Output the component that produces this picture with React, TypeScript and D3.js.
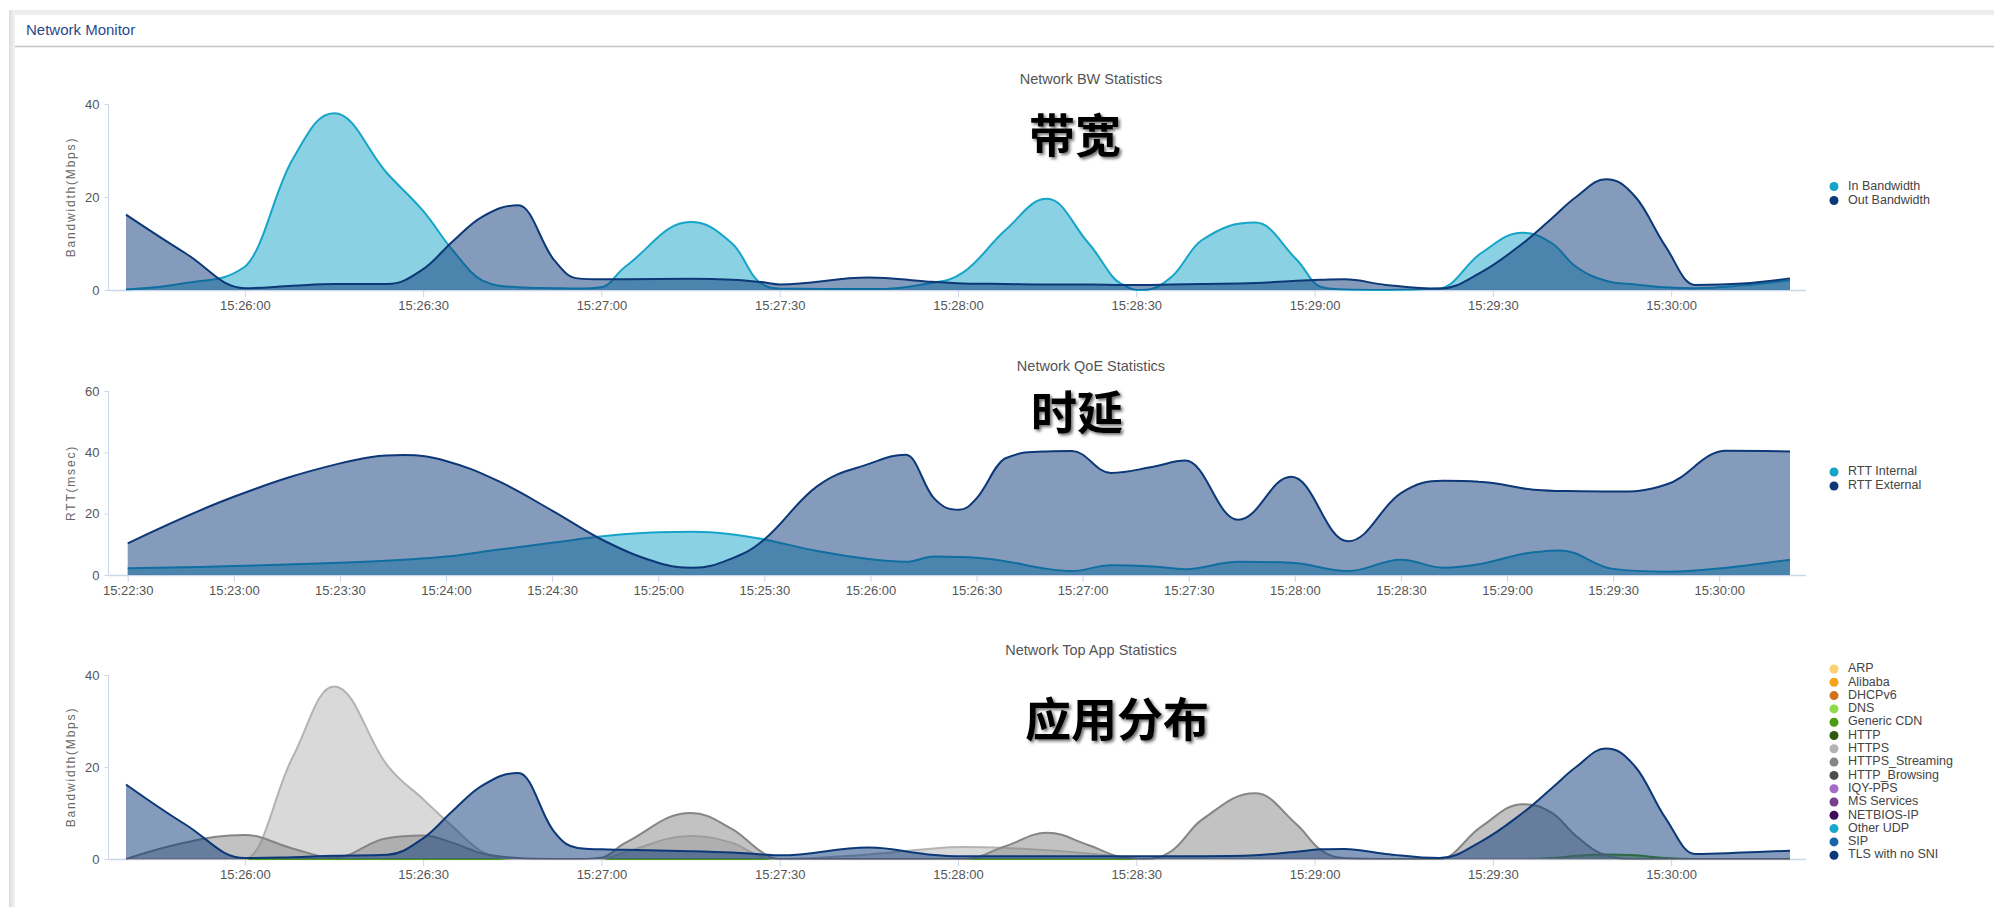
import React, { useEffect, useRef } from 'react';
import * as d3 from 'd3';

// ---- Network BW Statistics ----
const bwTimes = [
  '15:25:40', '15:25:50', '15:26:00', '15:26:08', '15:26:15', '15:26:24', '15:26:30', '15:26:35',
  '15:26:40', '15:26:46', '15:26:52', '15:26:56', '15:27:00', '15:27:04', '15:27:15', '15:27:22',
  '15:27:27', '15:27:30', '15:27:45', '15:27:55', '15:28:01', '15:28:08', '15:28:15', '15:28:22',
  '15:28:28', '15:28:31', '15:28:36', '15:28:41', '15:28:50', '15:28:57', '15:29:01', '15:29:05',
  '15:29:12', '15:29:21', '15:29:28', '15:29:35', '15:29:40', '15:29:44', '15:29:49', '15:29:54',
  '15:29:59', '15:30:04', '15:30:12', '15:30:20',
];
const inBandwidth = [
  0.1, 1.5, 5.0, 28, 38, 25, 17, 8.5, 2, 0.6, 0.4, 0.3, 0.6, 5, 14.6, 10,
  1.4, 0.3, 0.2, 1.4, 3.9, 12.9, 19.6, 10, 1, 0, 2.9, 10.7, 14.5, 6.5, 0.7, 0.1,
  0, 0.3, 7.9, 12.3, 10, 5, 2, 1.2, 0.6, 0.4, 1, 2.1,
];
const outBandwidth = [
  16.2, 7.9, 0.4, 0.9, 1.3, 1.3, 4.5, 10.5, 15.8, 18.2, 6.5, 2.5, 2.3, 2.3, 2.4, 2.2,
  1.7, 1.2, 2.7, 1.8, 1.4, 1.3, 1.2, 1.2, 1.1, 1.1, 1.2, 1.3, 1.5, 2, 2.2, 2.3,
  1.1, 0.3, 3.8, 10, 15.5, 20, 23.8, 20, 9.5, 1.1, 1.4, 2.5,
];
const bwTicks = ['15:26:00', '15:26:30', '15:27:00', '15:27:30', '15:28:00', '15:28:30', '15:29:00', '15:29:30', '15:30:00'];

// ---- Network QoE Statistics ----
const qoeTimes = [
  '15:22:30', '15:23:00', '15:23:30', '15:23:48', '15:24:00', '15:24:15', '15:24:30', '15:24:45',
  '15:25:00', '15:25:10', '15:25:20', '15:25:30', '15:25:45', '15:26:00', '15:26:10', '15:26:18',
  '15:26:25', '15:26:30', '15:26:38', '15:26:50', '15:26:57', '15:27:08', '15:27:20', '15:27:29',
  '15:27:44', '15:27:59', '15:28:15', '15:28:30', '15:28:42', '15:28:52', '15:29:10', '15:29:15',
  '15:29:30', '15:29:45', '15:30:02', '15:30:20',
];
const rttInternal = [
  2.2, 2.9, 4.0, 5.0, 6.0, 8.3, 10.5, 12.7, 13.9, 14.1, 13.4, 11.6, 7.8, 5.1, 4.3, 6,
  5.9, 5.6, 4.5, 2, 1.3, 3.2, 2.8, 1.9, 4.3, 4, 1.3, 5, 2.4, 3.5, 7.7, 8,
  2, 1.1, 2.4, 5,
];
const rttExternal = [
  10.3, 25.5, 36.4, 39.1, 37.2, 30.5, 21, 11, 4, 2.4, 5, 11.6, 29, 36.4, 39.2, 25,
  21.3, 25, 38, 40.3, 40.4, 33.3, 35.3, 37.3, 18, 32, 11, 26.7, 30.7, 30.4, 27.6, 27.4,
  27.2, 29.5, 40.5, 40.3,
];
const qoeTicks = [
  '15:22:30', '15:23:00', '15:23:30', '15:24:00', '15:24:30', '15:25:00', '15:25:30', '15:26:00',
  '15:26:30', '15:27:00', '15:27:30', '15:28:00', '15:28:30', '15:29:00', '15:29:30', '15:30:00',
];

// ---- Network Top App Statistics ----
const appTimes = bwTimes;
const appNames = [
  'ARP', 'Alibaba', 'DHCPv6', 'DNS', 'Generic CDN', 'HTTP', 'HTTPS', 'HTTPS_Streaming',
  'HTTP_Browsing', 'IQY-PPS', 'MS Services', 'NETBIOS-IP', 'Other UDP', 'SIP', 'TLS with no SNI',
];
const appColors = [
  '#fcd073', '#f7a21b', '#d2711c', '#8fd94b', '#4e9a10', '#2f5a0e', '#b3b3b3', '#858585',
  '#4d4d4d', '#a56bc5', '#7a3f8c', '#3e0c58', '#17a9cc', '#1a63a9', '#0c3877',
];
const genericCdnTraffic = [
  0, 0, 0, 0, 0, 0, 0, 0, 0, 0, 0, 0, 0, 0, 0, 0,
  0, 0, 0, 0, 0, 0, 0, 0, 0, 0, 0, 0, 0, 0, 0, 0,
  0, 0, 0, 0, 0.2, 0.7, 1.0, 0.8, 0.2, 0, 0, 0,
];
const httpsTraffic = [
  0, 0, 0, 22, 37.5, 20.3, 13, 7, 1.5, 0, 0, 0, 0, 1.5, 5, 3.5,
  0.5, 0, 1, 2.2, 2.6, 2.4, 1.9, 1.2, 0.4, 0, 0, 0, 0, 0, 0, 0,
  0, 0, 0, 0, 0, 0, 0, 0, 0, 0, 0, 0,
];
const httpsStreamingTraffic = [
  0, 3.6, 5.2, 2.3, 0.3, 4.5, 5.1, 3.5, 1.2, 0.2, 0, 0, 0.3, 3.5, 10, 6.5,
  1.5, 0, 0, 0, 0, 2.8, 5.7, 3, 0.3, 0, 1.8, 8.5, 14.3, 7.5, 2, 0.2,
  0, 0, 7, 11.9, 10, 5, 0.8, 0, 0, 0, 0, 0,
];
const tlsNoSniTraffic = [
  16.2, 7.5, 0.2, 0.4, 0.7, 0.9, 4.5, 10.5, 16, 18.7, 6, 2.4, 2.1, 2.0, 1.7, 1.4,
  1.0, 0.8, 2.5, 1.0, 0.6, 0.6, 0.6, 0.6, 0.6, 0.6, 0.6, 0.6, 0.8, 1.6, 2.1, 2.2,
  1.1, 0.2, 3.8, 10, 15.5, 20, 24, 20, 9, 1.1, 1.4, 1.8,
];
const appValues: Record<string, number[]> = {
  'Generic CDN': genericCdnTraffic,
  HTTPS: httpsTraffic,
  HTTPS_Streaming: httpsStreamingTraffic,
  'TLS with no SNI': tlsNoSniTraffic,
};

const FONT = '"Liberation Sans", Arial, Helvetica, sans-serif';
const parseTime = d3.timeParse('%H:%M:%S');
const AXIS_COLOR = '#ccd6eb';

// spline like the one the monitoring page uses (control points at 40%, clamped at extremes)
class SplineCurve {
  _context: any;
  _line: number;
  _x: number[];
  _y: number[];
  constructor(context) { this._context = context; }
  areaStart() { this._line = 0; }
  areaEnd() { this._line = NaN; }
  lineStart() { this._x = []; this._y = []; }
  point(x, y) { this._x.push(+x); this._y.push(+y); }
  lineEnd() {
    const xs = this._x, ys = this._y, n = xs.length;
    if (n) {
      if (this._line) this._context.lineTo(xs[0], ys[0]);
      else this._context.moveTo(xs[0], ys[0]);
      const s = 1.5, den = s + 1;
      const rcx = [], rcy = [], lcx = [], lcy = [];
      for (let i = 0; i < n; i++) {
        if (i === 0 || i === n - 1) {
          lcx[i] = rcx[i] = xs[i];
          lcy[i] = rcy[i] = ys[i];
          continue;
        }
        const px = xs[i], py = ys[i];
        const lx = xs[i - 1], ly = ys[i - 1], nx = xs[i + 1], ny = ys[i + 1];
        const lX = (s * px + lx) / den;
        let lY = (s * py + ly) / den;
        const rX = (s * px + nx) / den;
        let rY = (s * py + ny) / den;
        let corr = 0;
        if (rX !== lX) corr = ((rY - lY) * (rX - px)) / (rX - lX) + py - rY;
        lY += corr;
        rY += corr;
        if (lY > ly && lY > py) { lY = Math.max(ly, py); rY = 2 * py - lY; }
        else if (lY < ly && lY < py) { lY = Math.min(ly, py); rY = 2 * py - lY; }
        if (rY > ny && rY > py) { rY = Math.max(ny, py); lY = 2 * py - rY; }
        else if (rY < ny && rY < py) { rY = Math.min(ny, py); lY = 2 * py - rY; }
        lcx[i] = lX; lcy[i] = lY; rcx[i] = rX; rcy[i] = rY;
      }
      for (let i = 1; i < n; i++) {
        this._context.bezierCurveTo(rcx[i - 1], rcy[i - 1], lcx[i], lcy[i], xs[i], ys[i]);
      }
    }
    if (this._line || (this._line !== 0 && n === 1)) this._context.closePath();
    this._line = 1 - this._line;
    this._x = this._y = null;
  }
}
const curveSpline = (context) => new SplineCurve(context);

const drawChart = (root, cfg) => {
  const g = root.append('g');
  const times = cfg.times.map(parseTime);
  const x = d3.scaleTime().domain(d3.extent(times)).range([cfg.x0, cfg.x1]);
  const y = d3.scaleLinear().domain([0, cfg.yMax]).range([cfg.bottom, cfg.top]);

  // title
  g.append('text')
    .attr('x', 1091).attr('y', cfg.top - 24)
    .attr('text-anchor', 'middle').attr('dominant-baseline', 'middle')
    .attr('fill', '#555').style('font-family', FONT).style('font-size', '14.5px')
    .text(cfg.title);

  // x axis
  const xa = g.append('g')
    .attr('transform', `translate(0,${cfg.bottom})`)
    .call(d3.axisBottom(x)
      .tickValues(cfg.ticks.map(parseTime))
      .tickFormat(d3.timeFormat('%H:%M:%S'))
      .tickSize(7).tickPadding(4));
  xa.select('.domain').remove();
  xa.selectAll('line').attr('stroke', AXIS_COLOR);
  xa.selectAll('text').attr('fill', '#555').style('font-family', FONT).style('font-size', '13px');
  g.append('line')
    .attr('x1', cfg.axisX).attr('x2', 1806)
    .attr('y1', cfg.bottom + 0.5).attr('y2', cfg.bottom + 0.5)
    .attr('stroke', AXIS_COLOR).attr('stroke-width', 1.5);

  // y axis
  const ya = g.append('g')
    .attr('transform', `translate(${cfg.axisX},0)`)
    .call(d3.axisLeft(y).tickValues(cfg.yTicks).tickSize(4).tickPadding(5));
  ya.select('.domain').remove();
  ya.selectAll('line').attr('stroke', AXIS_COLOR);
  ya.selectAll('text').attr('fill', '#555').style('font-family', FONT).style('font-size', '13px');
  g.append('line')
    .attr('x1', cfg.axisX).attr('x2', cfg.axisX)
    .attr('y1', cfg.top).attr('y2', cfg.bottom)
    .attr('stroke', AXIS_COLOR).attr('stroke-width', 1);

  g.append('text')
    .attr('transform', `translate(72,${(cfg.top + cfg.bottom) / 2}) rotate(-90)`)
    .attr('text-anchor', 'middle').attr('dominant-baseline', 'middle')
    .attr('fill', '#666').style('font-family', FONT).style('font-size', '12px')
    .style('letter-spacing', '1.8px')
    .text(cfg.yTitle);

  // areas
  const area = d3.area<number>()
    .x((_, i) => x(times[i]))
    .y0(cfg.bottom)
    .y1(d => y(d))
    .curve(curveSpline);
  const line = d3.line<number>()
    .x((_, i) => x(times[i]))
    .y(d => y(d))
    .curve(curveSpline);

  cfg.series.forEach(s => {
    if (!s.values) return;
    const sg = g.append('g');
    sg.append('path')
      .attr('d', area(s.values))
      .attr('fill', s.color).attr('fill-opacity', s.opacity ?? 0.5);
    sg.append('path')
      .attr('d', line(s.values))
      .attr('fill', 'none').attr('stroke', s.stroke ?? s.color)
      .attr('stroke-width', 2).attr('stroke-linejoin', 'round');
  });

  // legend
  cfg.series.forEach((s, i) => {
    const ly = cfg.legendY + i * cfg.legendGap;
    g.append('circle').attr('cx', 1834).attr('cy', ly).attr('r', 4.5).attr('fill', s.color);
    g.append('text')
      .attr('x', 1848).attr('y', ly)
      .attr('dominant-baseline', 'middle')
      .attr('fill', '#444').style('font-family', FONT).style('font-size', '12.5px')
      .text(s.name);
  });

  // big overlay label
  g.append('text')
    .attr('x', cfg.noteX).attr('y', cfg.noteY)
    .attr('text-anchor', 'middle').attr('dominant-baseline', 'central')
    .attr('fill', '#000').attr('filter', 'url(#shadow)')
    .style('font-family', '"Noto Sans CJK SC", sans-serif')
    .style('font-weight', 700).style('font-size', '46px')
    .text(cfg.note);
};

const App = () => {
  const svgRef = useRef(null);

  useEffect(() => {
    const svg = d3.select(svgRef.current);
    svg.selectAll('*').remove();

    const defs = svg.append('defs');
    defs.append('filter').attr('id', 'shadow')
      .attr('x', '-20%').attr('y', '-20%').attr('width', '140%').attr('height', '140%')
      .append('feDropShadow')
      .attr('dx', 2).attr('dy', 2).attr('stdDeviation', 1.5)
      .attr('flood-color', '#333').attr('flood-opacity', 0.7);
    const grad = defs.append('linearGradient').attr('id', 'edge').attr('x1', 0).attr('x2', 1);
    grad.append('stop').attr('offset', 0).attr('stop-color', '#dcdcdc');
    grad.append('stop').attr('offset', 1).attr('stop-color', '#f3f3f3');

    // page frame
    svg.append('rect').attr('width', 1994).attr('height', 907).attr('fill', '#fff');
    svg.append('rect').attr('x', 9).attr('y', 10).attr('width', 1985).attr('height', 5).attr('fill', '#ededed');
    svg.append('rect').attr('x', 9).attr('y', 10).attr('width', 6).attr('height', 897).attr('fill', 'url(#edge)');
    svg.append('text')
      .attr('x', 26).attr('y', 31).attr('dominant-baseline', 'middle')
      .attr('fill', '#284a8c').style('font-family', FONT).style('font-size', '15px')
      .text('Network Monitor');
    svg.append('line')
      .attr('x1', 15).attr('x2', 1994).attr('y1', 46.5).attr('y2', 46.5)
      .attr('stroke', '#c4c4c4').attr('stroke-width', 1.5);

    drawChart(svg, {
      title: 'Network BW Statistics', yTitle: 'Bandwidth(Mbps)',
      times: bwTimes, ticks: bwTicks, yMax: 40, yTicks: [0, 20, 40],
      top: 104, bottom: 290, x0: 126, x1: 1790, axisX: 108.5,
      series: [
        { name: 'In Bandwidth', color: '#16a4c8', values: inBandwidth },
        { name: 'Out Bandwidth', color: '#0c3877', values: outBandwidth },
      ],
      legendY: 186.5, legendGap: 14,
      note: '带宽', noteX: 1075, noteY: 132,
    });

    drawChart(svg, {
      title: 'Network QoE Statistics', yTitle: 'RTT(msec)',
      times: qoeTimes, ticks: qoeTicks, yMax: 60, yTicks: [0, 20, 40, 60],
      top: 391, bottom: 575, x0: 127.7, x1: 1790, axisX: 108.5,
      series: [
        { name: 'RTT Internal', color: '#16a4c8', values: rttInternal },
        { name: 'RTT External', color: '#0c3877', values: rttExternal },
      ],
      legendY: 472, legendGap: 14,
      note: '时延', noteX: 1077, noteY: 409,
    });

    drawChart(svg, {
      title: 'Network Top App Statistics', yTitle: 'Bandwidth(Mbps)',
      times: appTimes, ticks: bwTicks, yMax: 40, yTicks: [0, 20, 40],
      top: 675, bottom: 859, x0: 126, x1: 1790, axisX: 108.5,
      series: appNames.map((name, i) => ({
        name,
        color: appColors[i],
        values: appValues[name] || null,
      })),
      legendY: 669, legendGap: 13.3,
      note: '应用分布', noteX: 1117, noteY: 716,
    });
  }, []);

  return (
    <svg
      ref={svgRef}
      width={1994}
      height={907}
      style={{ position: 'absolute', left: 0, top: 0 }}
    />
  );
};

export default App;
